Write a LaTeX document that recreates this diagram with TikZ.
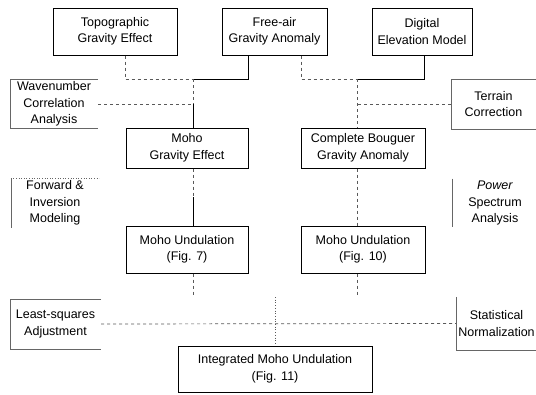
\documentclass[tikz,border=0pt]{standalone}
\usepackage{fontspec}
\setmainfont{Liberation Sans}
\usepackage{tikz}
\usetikzlibrary{calc}
\tikzset{
	block/.style={draw,rectangle,line width=1pt,align=center,inner sep=2pt,font=\fontsize{12.5}{16.5}\selectfont},
	label/.style={draw=none,rectangle,align=center,inner sep=2pt,font=\fontsize{12.5}{16.5}\selectfont},
	link/.style={line width=0.8pt},
	fade/.style={line width=0.7pt,dashed,black!65},
	bracket/.style={line width=0.6pt,black!60}
	}
\begin{document}
\begin{tikzpicture}[x=1pt,y=-1pt]
		\useasboundingbox (0,0) rectangle (536,394);
		\node[block,minimum width=124,minimum height=47] (topo) at (115,31.5) {Topographic\\Gravity Effect};
		\node[block,minimum width=105,minimum height=47] (freeair) at (274.5,31.5) {Free-air\\Gravity Anomaly};
		\node[block,minimum width=100,minimum height=47] (dem) at (422,31.5) {Digital\\Elevation Model};
		\node[block,minimum width=122,minimum height=40] (mohograv) at (187,148) {Moho\\Gravity Effect};
		\node[block,minimum width=124,minimum height=40] (bouguer) at (363,148) {Complete Bouguer\\Gravity Anomaly};
		\node[block,minimum width=122,minimum height=47] (undul7) at (187,249.5) {Moho Undulation\\(Fig. 7)};
		\node[block,minimum width=124,minimum height=47] (undul10) at (363,249.5) {Moho Undulation\\(Fig. 10)};
		\node[block,minimum width=194,minimum height=46] (integ) at (275,369) {Integrated Moho Undulation\\(Fig. 11)};
		\node[label,minimum width=88,minimum height=48] (wavenum) at (54,104) {Wavenumber\\Correlation\\Analysis};
		\node[label,minimum width=85,minimum height=50] (terrain) at (493.5,104) {Terrain\\Correction};
		\node[label,minimum width=88,minimum height=48] (forward) at (55,203) {Forward \&\\Inversion\\Modeling};
		\node[label,minimum width=86,minimum height=48] (power) at (495,203) {\textit{Power}\\Spectrum\\Analysis};
		\node[label,minimum width=91,minimum height=50] (leastsq) at (55.5,324) {Least-squares\\Adjustment};
		\node[label,minimum width=79,minimum height=53] (statist) at (496.5,323.5) {Statistical\\Normalization};
		\draw[bracket] (wavenum.north east) -- (wavenum.north west) -- (wavenum.south west) -- (wavenum.south east);
		\draw[bracket] (terrain.north east) -- (terrain.north west) -- (terrain.south west) -- (terrain.south east);
		\draw[bracket] (forward.north west) -- (forward.south west);
		\draw[bracket,dotted] (forward.north west) -- (forward.north east);
		\draw[bracket] (power.north west) -- (power.south west);
		\draw[bracket] (leastsq.north east) -- (leastsq.north west) -- (leastsq.south west) -- (leastsq.south east);
		\draw[bracket] (statist.north west) -- (statist.south west) -- (statist.south east);
		\coordinate (tl) at (125,79);
		\coordinate (jl) at (193,79);
		\coordinate (fl) at (248,79);
		\coordinate (fr) at (301,79);
		\coordinate (jr) at (357,79);
		\coordinate (dr) at (424,79);
		\coordinate (bl) at (193,297);
		\coordinate (ct) at (275,297);
		\coordinate (br) at (357,297);
		\draw[fade] (topo.south -| tl) -- (tl) -- (jl);
		\draw[link] (jl) -- (fl) -- (freeair.south -| fl);
		\draw[fade] (freeair.south -| fr) -- (fr) -- (jr);
		\draw[link] (jr) -- (dr) -- (dem.south -| dr);
		\draw[fade] (jl) -- (wavenum.east -| jl);
		\draw[link] (wavenum.east -| jl) -- (mohograv.north -| jl);
		\draw[fade] (wavenum.east) -- (wavenum.east -| jl);
		\draw[fade] (jr) -- (bouguer.north -| jr);
		\draw[fade] (terrain.west) -- (terrain.west -| jr);
		\draw[fade] (mohograv.south -| jl) -- ($(mohograv.south -| jl)!0.5!(undul7.north -| jl)$);
		\draw[link] ($(mohograv.south -| jl)!0.5!(undul7.north -| jl)$) -- (undul7.north -| jl);
		\draw[fade] (bouguer.south -| jr) -- (undul10.north -| jr);
		\draw[fade] (undul7.south -| bl) -- (bl);
		\draw[fade] (undul10.south -| br) -- (br);
		\draw[fade,dotted] (ct) -- (integ.north);
		\draw[fade] (leastsq.east) -- (statist.west);
\end{tikzpicture}
\end{document}
